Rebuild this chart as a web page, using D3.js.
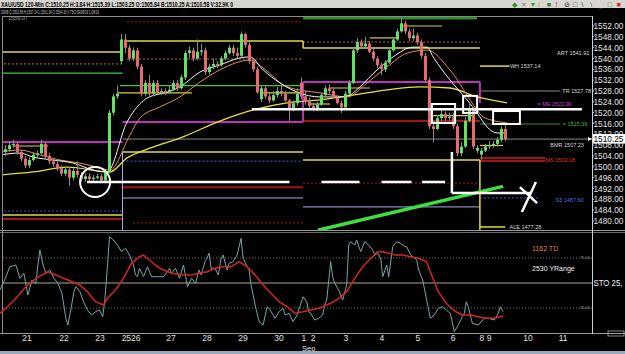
<!DOCTYPE html>
<html>
<head>
<meta charset="utf-8">
<script src="https://cdn.jsdelivr.net/npm/d3@7"></script>
<style>
  body { margin: 0; background: #000; overflow: hidden; }
  svg { display: block; font-family: Arial, "Liberation Sans", sans-serif; }
</style>
</head>
<body>
<svg id="chart" width="625" height="354"></svg>
<script>
// 120-min XAU/USD candles, one entry per bar
var opens = [1503.5,1505.5,1506.5,1508,1508.5,1505.5,1503,1500.5,1502.5,1504.5,1505,1508.5,1504,1502,1501,1499.5,1497.5,1499,1496,1498.5,1497,1495.5,1496.5,1495.5,1496,1496.5,1495,1498,1520,1526,
  1539,1547,1544,1540,1543,1537,1527,1531,1527,1531,1527.5,1528,1527.5,1528.5,1531,1529,1533,1542,1543,1540,1542.5,1543,1535,1537,1538,1537.5,1540,1542,1544,1542,
  1541,1549,1545,1539,1536,1525,1529,1526,1524.5,1526.5,1528,1527,1524.5,1521,1523.5,1531,1526,1524,1522.5,1521.5,1523,1526.5,1529,1528,1525.5,1523.5,1522,1527,1531,1543,
  1546,1544.5,1545.5,1542.5,1540,1537.5,1536,1538.5,1543,1547,1550,1553,1550,1547.5,1548.5,1546,1541,1532,1515,1514,1518,1519.5,1518,1518.5,1515,1505,1507.5,1517,1521,1506,
  1504.5,1506,1507.5,1508,1508.5,1510,1514];
var highs = [1507,1508,1509.5,1510,1509,1506,1504,1503.5,1505.5,1506,1510,1509,1505,1503,1502.5,1500.5,1500,1500,1499.5,1502,1498,1497.5,1497.5,1497,1497.5,1497.5,1499,1521,1527,1530,
  1549,1549,1545,1544,1544,1538,1532,1534,1532,1532,1529,1529,1530,1532,1532,1534,1543,1544.5,1544,1547,1545.5,1544,1538,1540,1539,1541,1543,1545,1545,1544,
  1550,1549.5,1546,1540,1537,1530,1530,1527,1528,1529.5,1530,1528,1525,1524.5,1529,1533,1528,1525.5,1523.5,1524,1527.5,1530,1530.5,1529,1526.5,1524.5,1528,1532,1544,1547.5,
  1547,1548,1546.5,1543.5,1541,1538.5,1539.5,1544,1548,1551,1555,1554,1551,1551,1549.5,1547,1542,1533,1517,1519,1521,1520.5,1520,1520,1516,1509,1518.5,1523.5,1522,1508,
  1507,1508.5,1509.5,1509.5,1511,1515,1515.4];
var lows = [1502,1504,1505.5,1507,1504.5,1502,1499.5,1499.5,1502,1503.5,1504.5,1503,1501,1500,1498.5,1496.5,1496.5,1493,1495,1496,1494.5,1494.5,1494.5,1494.5,1495.5,1494,1494.5,1497.5,1519,1525,
  1538,1542,1539,1539,1536,1526,1526,1526,1526,1527,1526.5,1526.5,1527,1528,1528,1528.5,1532,1540,1539,1539.5,1541,1534,1534,1536,1536.5,1537,1539.5,1541.5,1541,1540,
  1540.5,1544,1538,1535,1527,1524,1525,1523.5,1524,1525.5,1526,1524,1517,1520.5,1522.5,1525,1523,1521.5,1520.5,1520.5,1522.5,1526,1527,1525,1523,1520,1521.5,1526.5,1530.5,1542,
  1543.5,1543.5,1542,1539,1536.5,1534,1535,1538,1542.5,1546.5,1549.5,1549,1546.5,1546.5,1545,1540,1531,1514,1509,1513.5,1517,1517,1517,1514,1504,1504,1507,1516.5,1506.5,1505,
  1502.5,1505.5,1506.5,1507,1507.5,1509,1509.5];
var closes = [1505.5,1506.5,1508,1508.5,1505.5,1503,1500.5,1502.5,1504.5,1505,1508.5,1504,1502,1501,1499.5,1497.5,1499,1496,1498.5,1497,1495.5,1496.5,1495.5,1496,1496.5,1495,1498,1520,1526,1527,
  1547,1544,1540,1543,1537,1527,1531,1527,1531,1527.5,1528,1527.5,1528.5,1531,1529,1533,1542,1543,1540,1542.5,1543,1535,1537,1538,1537.5,1540,1542,1544,1542,1541,
  1549,1545,1539,1536,1527.5,1529,1526,1524.5,1526.5,1528,1527,1524.5,1521,1523.5,1527,1526,1524,1522.5,1521.5,1523,1526.5,1529,1528,1525.5,1523.5,1522,1527,1531,1543,1546,
  1544.5,1545.5,1542.5,1540,1537.5,1536,1538.5,1543,1547,1550,1553,1550,1547.5,1548.5,1546,1541,1532,1515,1514,1518,1519.5,1518,1518.5,1515,1505,1507.5,1517,1521,1507.5,1507,
  1506,1507.5,1508,1508.5,1510,1514,1510.25];

// moving averages (bar, price)
var maFastBars = [-0.4,4.6,7.9,12.9,17.9,22.9,26.4,31.4,32.9,36.4,41.4,44.6,49.6,54.6,59.6,62.1,65.4,69.6,73.9,79.6,84.6,87.1,89.6,93.9,97.9,102.9,106.4,107.9,112.1,116.4,118.9,121.4,123.9,126.4];
var maFastVals = [1504.4,1505.1,1503.6,1502.5,1501.4,1498.8,1498.1,1516.6,1520.2,1525.4,1527.6,1529.5,1535,1537.6,1540.2,1540.6,1535.8,1531,1527.6,1525.8,1525.8,1526.5,1529.5,1535.8,1540.6,1544.2,1544.2,1540.6,1532.1,1524.7,1519.9,1514.7,1512.5,1512.5];
var maMidBars = [-0.4,4.6,9.6,14.6,19.6,24.6,27.1,32.1,34.6,39.6,44.6,49.6,54.6,62.1,65.4,71.4,79.6,86.4,91.4,96.4,101.4,106.4,112.1,118.9,120.4,126.4];
var maMidVals = [1505.5,1506.2,1504.4,1502.5,1501.4,1499.6,1498.8,1511.7,1518,1522.1,1525.8,1531.3,1535.8,1539.4,1536.5,1529.5,1527.3,1525.8,1531,1536.9,1542,1543.1,1535.8,1521,1518.4,1516.2];
var maSlowBars = [-0.4,7.9,16.4,27.1,31.4,37.1,44.6,54.6,62.9,71.4,79.6,87.9,96.4,104.6,112.1,118.9,126.4];
var maSlowVals = [1497,1498.1,1499.9,1498.1,1503.3,1506.9,1510.6,1516.9,1521,1523.6,1524.7,1526.5,1528.4,1529.5,1529.1,1525.8,1523.6];

// weekly / daily levels: price, from bar, to bar, kind
var levels = [
  [1542.4,-0.4,30.25,"yellow"],[1538.0,-0.4,30.25,"orangeDot"],[1534.6,-0.4,30.25,"green"],[1509.2,-0.4,30.25,"magenta"],
  [1483.7,-0.4,30.25,"blueDot"],[1482.2,-0.4,30.25,"yellow"],[1480.7,-0.4,30.25,"darkRed"],
  [1553.5,31.4,75.4,"redDot"],[1546.5,31.4,75.4,"yellow"],[1539.8,31.4,75.4,"orangeDot"],[1530.0,29.6,75.4,"green"],
  [1516.55,30.25,75.4,"magenta"],[1505.5,30.25,75.4,"yellow"],[1502.1,30.25,75.4,"blueDot"],[1492.5,30.25,75.4,"darkRed"],
  [1488.5,30.25,75.4,"lavender"],[1479.3,32.9,75.4,"redDot"],
  [1555.0,75.4,118.9,"darkGreen"],[1546.1,75.4,119.6,"orangeDot"],[1543.9,75.4,119.6,"yellow"],[1531.3,75.4,119.6,"magenta"],
  [1516.9,75.4,119.6,"red"],[1502.5,75.4,119.6,"yellow"],[1494.0,75.4,119.6,"redDot"],[1485.2,75.4,119.6,"lavender"],
  [1537.2,119.6,127,"yellow"],[1528.0,119.6,139.6,"gray"],[1515.8,119.6,139.6,"greenThin"],[1503.3,119.6,135.9,"darkRed"],
  [1502.2,119.6,135.9,"darkRed"],[1488.5,119.6,134.6,"blueDot"],[1477.8,119.6,125.9,"yellow"],
  [1507.7,2.9,11.6,"yellowThin"],[1527.3,28.9,47.6,"yellowThin"],[1527.3,65.1,74.6,"yellowThin"],[1523.2,76.6,82.1,"yellowThin"],
  [1529.1,82.1,92.1,"yellowThin"],[1547.6,92.1,98.9,"yellowThin"],[1552.0,100.1,110.1,"yellowThin"],[1518.9,107.9,117.9,"yellowThin"],
  [1507.9,119.6,125.4,"yellowThin"]
];
// vertical steps between weeks: bar, price from, price to, kind
var steps = [
  [75.4,1531.3,1516.55,"magenta"],[119.6,1531.3,1523.6,"magenta"],[75.4,1546.5,1543.9,"yellow"],
  [30.25,1505.5,1470,"lavender"],[119.6,1502.5,1470,"yellow"]
];
// level captions on the right: text, bar, price, kind
var captions = [
  ["ART 1541.91",138.9,1542.0,"white"],["WH 1537.14",127.1,1537.2,"white"],["TR 1527.78",140.2,1528.0,"white"],
  ["= ME 1522.90",134.0,1523.0,"magenta"],["= 1515.39",140.3,1515.8,"green"],["BMR 1507.23",137.2,1508.0,"white"],
  ["MS 1502.18",136.0,1502.6,"red"],["S3 1487.60",138.5,1487.6,"blue"],["ALE 1477.28",127.0,1477.8,"white"]
];

// hand drawn annotations
var whiteLines = [[21.4,1494.4,72.0,1494.4],[62.6,1521.3,145.1,1521.3],[80.0,1494.4,89.5,1494.4],[95.0,1494.4,102.5,1494.4],
  [105.1,1494.4,110.9,1494.4],[112.6,1505.5,112.6,1490.3],[112.6,1490.3,132.1,1490.3],[130.1,1483.3,133.6,1494.4],[129.6,1492.5,133.9,1486.6]];
var whiteBoxes = [[107.6,1523.2,113.4,1516.2],[115.4,1526.2,118.9,1519.9],[122.9,1520.6,129.6,1515.8]];
var circleAt = [23.4, 1494.4];
var greenTrend = [79.1, 1476.6, 125.4, 1492.8];

// stochastic (bar, value)
var kBars = [-0.4,0.6,2.1,3.6,4.6,5.6,6.6,7.6,8.6,9.1,9.6,10.4,11.1,12.1,13.1,14.1,15.1,16.1,16.6,17.4,18.1,18.6,19.6,20.5,21.5,22.5,23.5,24.5,25.3,25.8,26.5,27,28,29,30,31,32,33,33.5,34,34.5,35.5,36.5,37.5,39,40.5,41.5,42,42.5,43.5,44.5,45.5,46.5,47.5,48.5,49.4,49.9,50.9,51.9,52.4,53.4,54.2,54.9,55.4,56.4,56.9,57.9,58.9,59.9,60.4,61.9,62.4,63.4,64.4,65.4,66.4,66.9,68.4,69.4,70.4,70.9,71.9,72.9,73.9,75.4,76.3,76.8,77.3,78.3,79.3,80.3,80.8,81.3,82.3,82.8,83.3,84.3,85.3,86.3,86.8,87.3,88.3,88.8,89.8,90.8,91.8,92.8,93.3,93.8,94.8,95.3,96.3,96.8,97.8,98.8,99.8,100.8,101.3,102.3,103.8,104.3,105.3,106.3,107.2,108.2,109.2,110.2,111.2,112.2,113.2,114.2,115.2,115.7,116.2,116.7,117.7,119.2,120.7,121.7,123.2,124.2,124.7,125.4];
var kVals = [43,51.3,66.3,68,54.7,59.7,38,53,49.7,68,83,68,59.7,63,54.7,49.7,39.7,14.7,8,24.7,41.3,46.3,41.3,31.3,23,18,21.3,23,16.3,31.3,68,96.3,93,88,81.3,84.7,78,68,58,56.3,64.7,56.3,66.3,56.3,56.3,56.3,61.3,64.7,59.7,64.7,54.7,68,46.3,54.7,49.7,63,58,71.3,79.7,64.7,64.7,58,74.7,78,63,69.7,71.3,78,94.7,74.7,63,48,28,11.3,8,26.3,24.7,14.7,21.3,24.7,18,19.7,11.3,18,36.3,31.3,21.3,19.7,13,14.7,18,28,33,71.3,56.3,49.7,43,33,48,88,91.3,88,93,81.3,91.3,88,83,78,81.3,74.7,56.3,68,56.3,86.3,91.3,89.7,86.3,86.3,78,73,63,53,33,14.7,18,24.7,26.3,23,19.7,1.3,8,16.3,19.7,31.3,26.3,9.7,8,14.7,14.7,13,19.7,26.3,21.3];
var dBars = [-0.4,1.1,3.6,6.1,8.6,11.6,13.6,16.6,19.6,21.5,23.5,25.5,26.5,28.5,30.5,32.5,34.5,35.5,37.5,39.5,42.5,45.5,47.5,49.4,51.4,53.4,55.4,57.4,59.4,61.4,63.4,65.4,67.4,69.4,71.4,73.4,75.4,77.3,79.3,82.3,84.3,86.3,88.3,90.3,92.3,94.3,95.3,96.8,98.3,100.3,102.3,104.3,106.3,107.2,109.2,111.2,113.2,115.2,117.2,119.2,121.2,123.2,125.4];
var dVals = [19.7,24.7,34.7,46.3,54.7,61.3,58,53,48,41.3,31.3,28,34.7,43,54.7,69.7,76.3,78,71.3,64.7,59.7,58,58,59.7,61.3,64.7,66.3,66.3,71.3,66.3,58,48,39.7,31.3,26.3,19.7,21.3,23,24.7,29.7,34.7,41.3,54.7,66.3,74.7,81.3,81.3,79.7,78,78,76.3,74.7,71.3,61.3,41.3,29.7,22,18,18,16.3,14.7,14.7,17];

// time axis labels
var dayLabels = ["21","22","23","2526","27","28","29","30","1","2","3","4","5","6","8","9","10","11"];
var dayBars = [6.4,15.6,24.6,32.4,42.4,51.4,60.4,69.4,75.6,77.9,86.1,95.1,104.1,112.9,120.1,121.9,131.6,140.4];
var priceTicks = d3.range(1480, 1553, 4);
var lastPrice = 1510.25;

var width = 625,
  height = 354,
  axisX = 592;

var x = d3.scaleLinear().domain([-0.375, 147.625]).range([0, axisX]);
var y = d3.scaleLinear().domain([1480, 1552]).range([221, 26]);
var ys = d3.scaleLinear().domain([0, 100]).range([333, 233]);

var styles = {
  yellow: { c: "#e6dc3c", w: 1.5 },
  yellowThin: { c: "#d8d040", w: 1.2 },
  orangeDot: { c: "#b8704c", w: 1, d: "2,2" },
  green: { c: "#3cc83c", w: 1.3 },
  greenThin: { c: "#3a8a3a", w: 1 },
  darkGreen: { c: "#2a8f2a", w: 3 },
  magenta: { c: "#c22ec2", w: 2 },
  blueDot: { c: "#3a5ed0", w: 1, d: "2,2" },
  darkRed: { c: "#a01414", w: 2 },
  red: { c: "#d02020", w: 1.5 },
  redDot: { c: "#a82020", w: 1, d: "2,2" },
  lavender: { c: "#a8a8e8", w: 1 },
  gray: { c: "#8a8a8a", w: 1 }
};
var textColors = { white: "#d8d8d8", magenta: "#d040d0", green: "#40b040", red: "#e03030", blue: "#5070e0" };

var chart = d3.select("#chart");
chart.append("rect").attr("width", width).attr("height", height).attr("fill", "#000");

// clip for the price panel
chart.append("clipPath").attr("id", "pclip")
  .append("rect").attr("x", 2).attr("y", 16).attr("width", axisX - 2).attr("height", 214);

var price = chart.append("g").attr("clip-path", "url(#pclip)");

// price line across
price.append("line")
  .attr("x1", x(30.25)).attr("x2", axisX)
  .attr("y1", y(lastPrice)).attr("y2", y(lastPrice))
  .attr("stroke", "#8a8a8a").attr("stroke-width", 1);

// levels
price.selectAll("line.level")
  .data(levels)
  .enter()
  .append("line")
  .attr("class", "level")
  .attr("x1", function(d) { return x(d[1]); })
  .attr("x2", function(d) { return x(d[2]); })
  .attr("y1", function(d) { return y(d[0]); })
  .attr("y2", function(d) { return y(d[0]); })
  .attr("stroke", function(d) { return styles[d[3]].c; })
  .attr("stroke-width", function(d) { return styles[d[3]].w; })
  .attr("stroke-dasharray", function(d) { return styles[d[3]].d || null; });

price.selectAll("line.step")
  .data(steps)
  .enter()
  .append("line")
  .attr("class", "step")
  .attr("x1", function(d) { return x(d[0]); })
  .attr("x2", function(d) { return x(d[0]); })
  .attr("y1", function(d) { return y(d[1]); })
  .attr("y2", function(d) { return y(d[2]); })
  .attr("stroke", function(d) { return styles[d[3]].c; })
  .attr("stroke-width", function(d) { return styles[d[3]].w; });

// green trend line
price.append("line")
  .attr("x1", x(greenTrend[0])).attr("y1", y(greenTrend[1]))
  .attr("x2", x(greenTrend[2])).attr("y2", y(greenTrend[3]))
  .attr("stroke", "#3ee03e").attr("stroke-width", 3.5);

// moving averages
function maLine(bars, vals, color, w) {
  var pts = bars.map(function(b, i) { return [b, vals[i]]; });
  price.append("path")
    .datum(pts)
    .attr("fill", "none")
    .attr("stroke", color)
    .attr("stroke-width", w)
    .attr("d", d3.line()
      .curve(d3.curveMonotoneX)
      .x(function(d) { return x(d[0]); })
      .y(function(d) { return y(d[1]); }));
}
maLine(maSlowBars, maSlowVals, "#e8e03a", 1.3);
maLine(maMidBars, maMidVals, "#e0904a", 1);
maLine(maFastBars, maFastVals, "#f4f4f4", 1);

// candles
var candles = closes.map(function(c, i) {
  return { i: i, o: opens[i], h: highs[i], l: lows[i], c: c };
});

price.selectAll("line.wick")
  .data(candles)
  .enter()
  .append("line")
  .attr("class", "wick")
  .attr("x1", function(d) { return x(d.i); })
  .attr("x2", function(d) { return x(d.i); })
  .attr("y1", function(d) { return y(d.h); })
  .attr("y2", function(d) { return y(d.l); })
  .attr("stroke", "#8c8c8c")
  .attr("stroke-width", 1);

price.selectAll("rect.body")
  .data(candles)
  .enter()
  .append("rect")
  .attr("class", "body")
  .attr("x", function(d) { return x(d.i) - 1.5; })
  .attr("width", 3)
  .attr("y", function(d) { return y(Math.max(d.o, d.c)); })
  .attr("height", function(d) { return Math.max(1, Math.abs(y(d.o) - y(d.c))); })
  .attr("fill", function(d) { return d.c >= d.o ? "#68e068" : "#e46c6c"; });

// white annotations on top
price.selectAll("line.ann")
  .data(whiteLines)
  .enter()
  .append("line")
  .attr("class", "ann")
  .attr("x1", function(d) { return x(d[0]); })
  .attr("y1", function(d) { return y(d[1]); })
  .attr("x2", function(d) { return x(d[2]); })
  .attr("y2", function(d) { return y(d[3]); })
  .attr("stroke", "#fff")
  .attr("stroke-width", 2.5);

price.selectAll("rect.box")
  .data(whiteBoxes)
  .enter()
  .append("rect")
  .attr("class", "box")
  .attr("x", function(d) { return x(d[0]); })
  .attr("y", function(d) { return y(d[1]); })
  .attr("width", function(d) { return x(d[2]) - x(d[0]); })
  .attr("height", function(d) { return y(d[3]) - y(d[1]); })
  .attr("fill", "none")
  .attr("stroke", "#fff")
  .attr("stroke-width", 2);

price.append("circle")
  .attr("cx", x(circleAt[0])).attr("cy", y(circleAt[1])).attr("r", 15)
  .attr("fill", "none").attr("stroke", "#fff").attr("stroke-width", 2);

// captions for the levels
price.selectAll("text.cap")
  .data(captions)
  .enter()
  .append("text")
  .attr("class", "cap")
  .attr("x", function(d) { return x(d[1]); })
  .attr("y", function(d) { return y(d[2]); })
  .attr("dy", "0.35em")
  .attr("font-size", 5.5)
  .attr("fill", function(d) { return textColors[d[3]]; })
  .text(function(d) { return d[0]; });

price.append("text")
  .attr("x", 8).attr("y", 20)
  .attr("font-size", 5.5).attr("fill", "#a0a0a0")
  .text("1556.07");

// panel frames
chart.append("line").attr("x1", 2).attr("x2", axisX).attr("y1", 16.5).attr("y2", 16.5).attr("stroke", "#8a8a8a");
chart.append("line").attr("x1", 0).attr("x2", width).attr("y1", 230.5).attr("y2", 230.5).attr("stroke", "#9a9a9a");
chart.append("line").attr("x1", 0).attr("x2", width).attr("y1", 232.5).attr("y2", 232.5).attr("stroke", "#6a6a6a");
chart.append("line").attr("x1", 0).attr("x2", width).attr("y1", 333.5).attr("y2", 333.5).attr("stroke", "#9a9a9a");
chart.append("line").attr("x1", 2.5).attr("x2", 2.5).attr("y1", 16).attr("y2", 334).attr("stroke", "#8a8a8a");
chart.append("line").attr("x1", axisX + 0.5).attr("x2", axisX + 0.5).attr("y1", 16).attr("y2", 334).attr("stroke", "#d0d0d0");

// price axis
var yAxis = chart.append("g");
yAxis.selectAll("text")
  .data(priceTicks)
  .enter()
  .append("text")
  .attr("x", axisX + 1.5)
  .attr("y", function(d) { return y(d); })
  .attr("dy", "0.35em")
  .attr("font-size", 8.6)
  .attr("textLength", 30)
  .attr("lengthAdjust", "spacingAndGlyphs")
  .attr("fill", "#e4e4e4")
  .text(function(d) { return d3.format(".2f")(d); });
yAxis.selectAll("line")
  .data(priceTicks)
  .enter()
  .append("line")
  .attr("x1", axisX).attr("x2", axisX + 2)
  .attr("y1", function(d) { return y(d); })
  .attr("y2", function(d) { return y(d); })
  .attr("stroke", "#d0d0d0");

yAxis.append("rect")
  .attr("x", axisX + 1).attr("y", y(lastPrice) - 5)
  .attr("width", 32).attr("height", 9.5)
  .attr("fill", "#fff");
yAxis.append("text")
  .attr("x", axisX + 1.5).attr("y", y(lastPrice))
  .attr("dy", "0.35em")
  .attr("font-size", 8.6)
  .attr("textLength", 30)
  .attr("lengthAdjust", "spacingAndGlyphs")
  .attr("fill", "#000")
  .text(d3.format(".2f")(lastPrice));
yAxis.append("path")
  .attr("d", "M" + (axisX - 4) + "," + (y(lastPrice) - 2) + "l4,2l-4,2z")
  .attr("fill", "#fff");

// stochastic panel
var sto = chart.append("g");
[75, 50, 25].forEach(function(v) {
  sto.append("line")
    .attr("x1", 3).attr("x2", axisX)
    .attr("y1", ys(v)).attr("y2", ys(v))
    .attr("stroke", v === 50 ? "#a8a890" : "#707070")
    .attr("stroke-dasharray", v === 50 ? null : "1,2");
});

function stoLine(bars, vals, color, w) {
  var pts = bars.map(function(b, i) { return [b, vals[i]]; });
  sto.append("path")
    .datum(pts)
    .attr("fill", "none")
    .attr("stroke", color)
    .attr("stroke-width", w)
    .attr("d", d3.line()
      .x(function(d) { return x(d[0]); })
      .y(function(d) { return ys(d[1]); }));
}
stoLine(kBars, kVals, "#76a6a6", 1);
stoLine(dBars, dVals, "#d42424", 1.5);

sto.append("text").attr("x", 532).attr("y", 251).attr("font-size", 7).attr("fill", "#e08848").text("1162 TD");
sto.append("text").attr("x", 532).attr("y", 271).attr("font-size", 7).attr("fill", "#f0f0f0").text("2530 YRange");
sto.append("text").attr("x", 580).attr("y", ys(75)).attr("dy", "0.35em").attr("font-size", 4).attr("fill", "#a0a0a0").text("75.00");
sto.append("text").attr("x", 580).attr("y", ys(25)).attr("dy", "0.35em").attr("font-size", 4).attr("fill", "#a0a0a0").text("25.00");
sto.append("text").attr("x", axisX + 1.5).attr("y", ys(50)).attr("dy", "0.35em").attr("font-size", 8.5)
  .attr("textLength", 29).attr("lengthAdjust", "spacingAndGlyphs").attr("fill", "#f0f0f0").text("STO 25,");

// time axis
chart.selectAll("text.day")
  .data(dayLabels)
  .enter()
  .append("text")
  .attr("class", "day")
  .attr("x", function(d, i) { return x(dayBars[i]); })
  .attr("y", 341)
  .attr("text-anchor", "middle")
  .attr("font-size", 8.5)
  .attr("fill", "#e0e0e0")
  .text(function(d) { return d; });
chart.append("text").attr("x", x(76.8)).attr("y", 350.5).attr("text-anchor", "middle")
  .attr("font-size", 7.5).attr("fill", "#e0e0e0").text("Sep");
chart.append("rect").attr("x", 608).attr("y", 331).attr("width", 16).attr("height", 5)
  .attr("fill", "none").attr("stroke", "#c0c0c0").attr("stroke-width", 0.7);

// bottom strip
chart.append("rect").attr("x", 0).attr("y", 351).attr("width", width).attr("height", 3).attr("fill", "#9aa8bc");

// title bars
chart.append("rect").attr("x", 0).attr("y", 0).attr("width", width).attr("height", 8).attr("fill", "#d8d6d0");
chart.append("text").attr("x", 1).attr("y", 6.5).attr("font-size", 6.5).attr("font-weight", "bold").attr("fill", "#000")
  .attr("textLength", 232).attr("lengthAdjust", "spacingAndGlyphs")
  .text("XAU/USD  120-Min  C:1510.25  H:3.84  H:1515.39  L:1503.25  O:1505.84  B:1510.25  A:1510.58  V:32.9K  0");
chart.append("text").attr("x", 1).attr("y", 14).attr("font-size", 5.5).attr("fill", "#c8c8c8")
  .attr("textLength", 98).attr("lengthAdjust", "spacingAndGlyphs")
  .text("09/08 C:1502.86 H:1507.24 L:1501.34 O:1504.33 V:75/2 09/08/19 1:08:03");

var icons = [["\u25C6", "#3a8a3a"], ["\u2715", "#888"], ["\u25BC", "#3a9a3a"], ["/", "#c0a020"], ["\u25A0", "#2a8a2a"], ["!", "#c03030"],
  ["\u2298", "#303030"], ["\u25A1", "#404040"], ["\\", "#404040"], ["\\", "#606060"], ["_", "#404040"], ["\u25A1", "#606060"], ["\u25A0", "#d03030"]];
chart.selectAll("text.icon")
  .data(icons)
  .enter()
  .append("text")
  .attr("class", "icon")
  .attr("x", function(d, i) { return 512 + i * 8.7; })
  .attr("y", 6.5)
  .attr("font-size", 7)
  .attr("fill", function(d) { return d[1]; })
  .text(function(d) { return d[0]; });
</script>
</body>
</html>
